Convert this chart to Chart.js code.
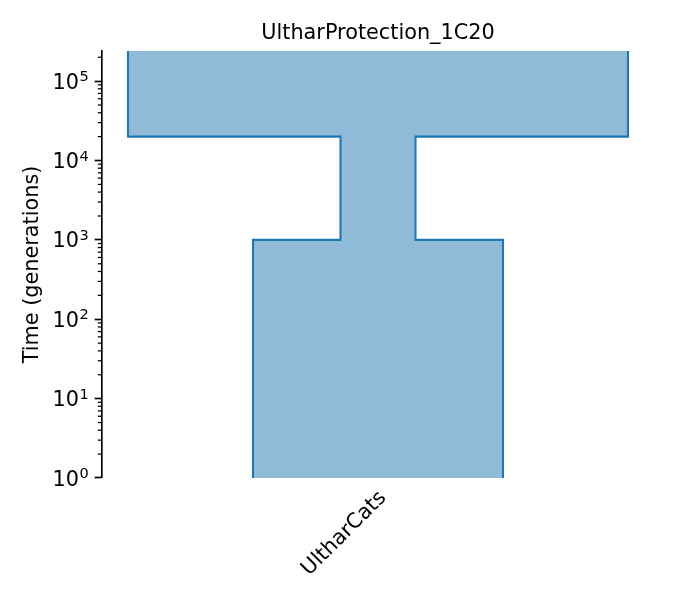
<!DOCTYPE html>
<html>
<head>
<meta charset="utf-8">
<script src="https://cdn.jsdelivr.net/npm/chart.js@4/dist/chart.umd.min.js"></script>
<style>
  html, body { margin: 0; padding: 0; background: #fff; }
  #wrap { width: 675px; height: 600px; }
</style>
</head>
<body>
<div id="wrap"><canvas id="demeChart"></canvas></div>
<script>
// deme and its epochs, oldest first (times in generations ago)
const demeNames = ["UltharCats"];
const epochStart = [Infinity, 20000, 1000];
const epochEnd = [20000, 1000, 0];
const epochSize = [20000, 3000, 10000];

// y axis
const yMin = 1;
const yMax = 2.4e5;
const majorTicks = [1, 10, 100, 1000, 10000, 100000];
const yTickBase = "10";
const yTickExponents = ["0", "1", "2", "3", "4", "5"];

const blue = "#1f77b4";
const font = "'DejaVu Sans', sans-serif";
const fontSize = 20.8;

// log axis cannot show 0 or Infinity: push those past the axis ends so they get clipped
function clampTime(t) {
    if (t === Infinity) return yMax * 100;
    if (t <= 0) return yMin / 10;
    return t;
}

// outline of the deme: down the left side, then back up the right side
const outline = [];
epochStart.forEach((start, i) => {
    outline.push({ x: -epochSize[i] / 2, y: clampTime(start) });
    outline.push({ x: -epochSize[i] / 2, y: clampTime(epochEnd[i]) });
});
for (let i = epochStart.length - 1; i >= 0; i--) {
    outline.push({ x: epochSize[i] / 2, y: clampTime(epochEnd[i]) });
    outline.push({ x: epochSize[i] / 2, y: clampTime(epochStart[i]) });
}
outline.push(outline[0]);

// short minor ticks, and "10" + raised exponent labels on the log axis
const logAxisExtras = {
    id: "logAxisExtras",
    afterDatasetsDraw(chart) {
        const y = chart.scales.y;
        const ctx = chart.ctx;
        ctx.save();
        ctx.strokeStyle = "#000";
        ctx.lineWidth = 1.25;
        y.ticks.forEach((t) => {
            if (majorTicks.includes(t.value)) return;
            const py = y.getPixelForValue(t.value);
            ctx.beginPath();
            ctx.moveTo(y.right, py);
            ctx.lineTo(y.right - 4.2, py);
            ctx.stroke();
        });

        ctx.fillStyle = "#000";
        ctx.textBaseline = "alphabetic";
        ctx.textAlign = "left";
        const smallSize = fontSize * 0.7;
        majorTicks.forEach((m, i) => {
            const py = y.getPixelForValue(m);
            const baseY = py + fontSize * 0.729 / 2;
            ctx.font = `${smallSize}px ${font}`;
            const expW = ctx.measureText(yTickExponents[i]).width;
            ctx.font = `${fontSize}px ${font}`;
            const baseW = ctx.measureText(yTickBase).width;
            const right = y.right - 7.3 - 6.5;
            const x0 = right - expW - baseW;
            ctx.fillText(yTickBase, x0, baseY);
            ctx.font = `${smallSize}px ${font}`;
            ctx.fillText(yTickExponents[i], x0 + baseW + 0.5, baseY - 7.5);
        });
        ctx.restore();
    },
};

new Chart(document.getElementById("demeChart"), {
    type: "scatter",
    data: {
        datasets: [
            {
                label: demeNames[0],
                data: outline,
                showLine: true,
                tension: 0,
                pointRadius: 0,
                borderColor: blue,
                borderWidth: 2.08,
                backgroundColor: "rgba(31, 119, 180, 0.5)",
                fill: "shape",
            },
        ],
    },
    options: {
        responsive: true,
        maintainAspectRatio: false,
        animation: false,
        layout: { padding: { left: 0, right: 21, top: 0, bottom: 0 } },
        plugins: {
            legend: { display: false },
            tooltip: { enabled: false },
            title: {
                display: true,
                fullSize: false,
                text: "UltharProtection_1C20",
                color: "#000",
                font: { family: font, size: fontSize, weight: "normal" },
                padding: { top: 21, bottom: 5 },
            },
        },
        scales: {
            x: {
                type: "linear",
                min: -11040,
                max: 11040,
                afterBuildTicks: (scale) => {
                    scale.ticks = [{ value: 0 }];
                },
                afterFit: (scale) => {
                    scale.height = 122;
                },
                grid: { display: false },
                border: { display: false },
                ticks: {
                    autoSkip: false,
                    minRotation: 45,
                    maxRotation: 45,
                    padding: 0,
                    labelOffset: 5,
                    color: "#000",
                    font: { family: font, size: fontSize },
                    callback: () => demeNames[0],
                },
            },
            y: {
                type: "logarithmic",
                min: yMin,
                max: yMax,
                afterBuildTicks: (scale) => {
                    const ticks = [];
                    majorTicks.forEach((m) => {
                        for (let k = 1; k <= 9; k++) {
                            if (m * k <= yMax) ticks.push({ value: m * k });
                        }
                    });
                    scale.ticks = ticks;
                },
                afterFit: (scale) => {
                    scale.width = 102;
                },
                grid: {
                    drawOnChartArea: false,
                    tickLength: 7.3,
                    tickWidth: 1.67,
                    tickColor: (ctx) =>
                        ctx.tick && majorTicks.includes(ctx.tick.value) ? "#000" : "rgba(0,0,0,0)",
                },
                border: { display: true, color: "#000", width: 1.67 },
                ticks: { autoSkip: false, display: false },
                title: {
                    display: true,
                    text: "Time (generations)",
                    color: "#000",
                    font: { family: font, size: fontSize },
                    padding: { top: 20, bottom: 0 },
                },
            },
        },
    },
    plugins: [logAxisExtras],
});
</script>
</body>
</html>
